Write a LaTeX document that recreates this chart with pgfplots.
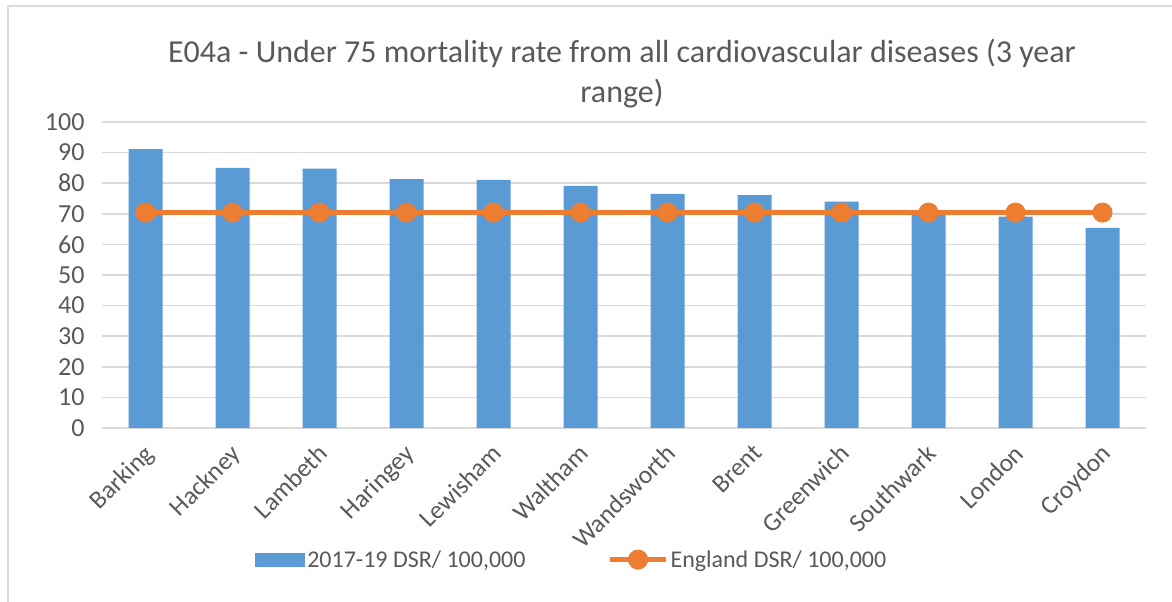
\documentclass[border=0pt]{standalone}
\usepackage{fontspec}
\setmainfont{Carlito}
\usepackage{pgfplots}
\pgfplotsset{compat=1.18}
\definecolor{barblue}{HTML}{5B9BD5}
\definecolor{lineorange}{HTML}{ED7D31}
\definecolor{gridgray}{HTML}{D9D9D9}
\definecolor{txtgray}{HTML}{595959}
\begin{document}
\begin{tikzpicture}[x=1pt,y=1pt]
\path[use as bounding box] (0,0) rectangle (1172,602);
\draw[gridgray, line width=1.5pt] (8,0) -- (8,596) -- (1172,596);
\node[font=\fontsize{32}{40}\selectfont, text=txtgray, align=center] at (622,528) {E04a - Under 75 mortality rate from all cardiovascular diseases (3 year\\range)};
\begin{axis}[
  at={(102pt,174pt)}, anchor=south west,
  scale only axis, width=1044pt, height=306pt,
  xmin=-0.5, xmax=11.5, ymin=0, ymax=100,
  ytick={0,10,...,100}, xtick={0,...,11},
  xticklabels={Barking,Hackney,Lambeth,Haringey,Lewisham,Waltham,Wandsworth,Brent,Greenwich,Southwark,London,Croydon},
  axis x line=bottom, axis y line=left,
  x axis line style={gridgray, line width=1.5pt, -},
  y axis line style={draw=none},
  major tick length=0pt,
  ymajorgrids, grid style={gridgray, line width=1.5pt},
  x tick label style={xshift=-3pt, yshift=-10pt, rotate=45, anchor=north east, font=\fontsize{25.5}{26}\selectfont, text=txtgray},
  y tick label style={font=\fontsize{26}{26}\selectfont, text=txtgray, xshift=-14pt},
  /pgf/number format/assume math mode=true,
  legend columns=2,
  legend style={at={(0.45,-0.43)}, anchor=center, draw=none, font=\fontsize{24}{24}\selectfont, text=txtgray,
    /tikz/every even column/.append style={column sep=80pt}},
  clip=false,
]
\addplot[ybar, bar width=34pt, fill=barblue, draw=none,
  legend image code/.code={\fill[barblue] (0pt,-7pt) rectangle (50pt,7pt);}]
  coordinates {(0,91.1) (1,85.0) (2,84.8) (3,81.3) (4,81.1) (5,79.1) (6,76.5) (7,76.1) (8,74.0) (9,70.3) (10,69.1) (11,65.4)};
\addlegendentry{2017-19 DSR/ 100,000}
\addplot[lineorange, line width=5pt, mark=*, mark size=7.5pt, mark options={fill=lineorange, draw=none},
  legend image code/.code={\draw[lineorange, line width=5pt] (0pt,0pt) -- (56pt,0pt); \fill[lineorange] (28pt,0pt) circle (7.5pt);}]
  coordinates {(0,70.4) (1,70.4) (2,70.4) (3,70.4) (4,70.4) (5,70.4) (6,70.4) (7,70.4) (8,70.4) (9,70.4) (10,70.4) (11,70.4)};
\addlegendentry{England DSR/ 100,000}
\end{axis}
\end{tikzpicture}
\end{document}
